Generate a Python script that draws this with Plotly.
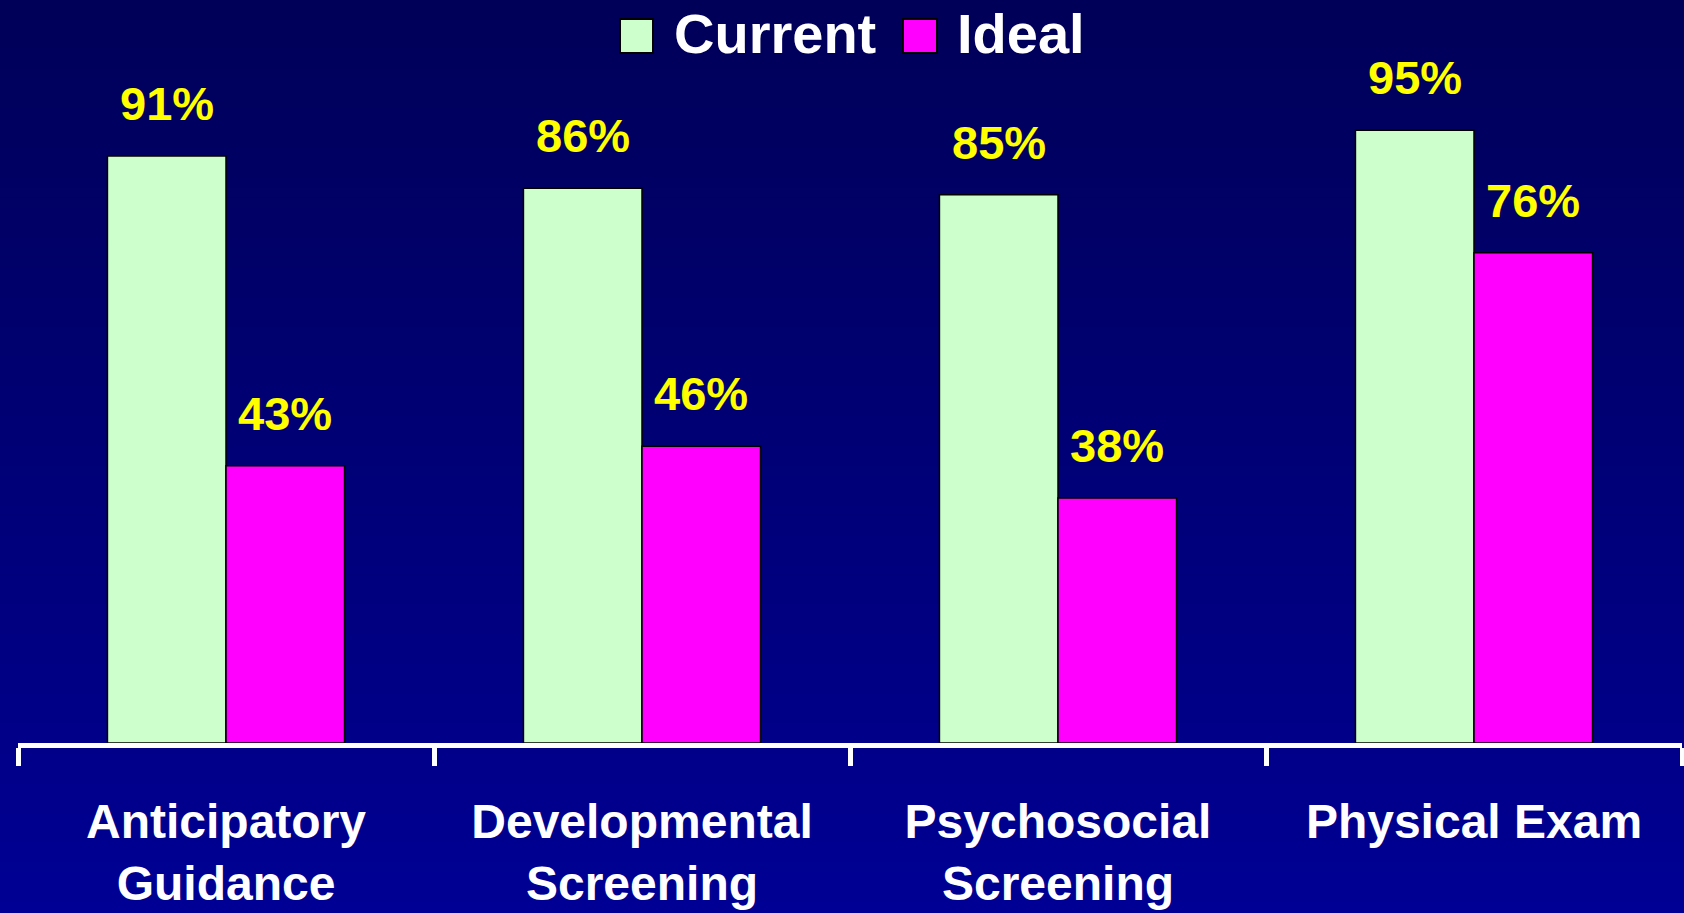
import plotly.graph_objects as go

categories = ["Anticipatory Guidance", "Developmental Screening", "Psychosocial Screening", "Physical Exam"]
tick_labels = ["Anticipatory<br>Guidance", "Developmental<br>Screening", "Psychosocial<br>Screening", "Physical Exam"]
series_names = ["Current", "Ideal"]
current_values = [91, 86, 85, 95]
ideal_values = [43, 46, 38, 76]
series_colors = ["#CCFFCC", "#FF00FF"]

W, H = 1684, 913
ML, MR, MT, MB = 18, 2, 98, 170
PW, PH = W - ML - MR, H - MT - MB
FONT = "Liberation Sans, Arial, sans-serif"
BARGAP = 0.43

def px_to_paper(x, y):
    return (x - ML) / PW, (H - MB - y) / PH

fig = go.Figure()
for name, vals, col in zip(series_names, [current_values, ideal_values], series_colors):
    fig.add_trace(go.Bar(
        x=categories, y=vals, name=name, showlegend=False,
        marker=dict(color=col, line=dict(color="black", width=1.5)),
        hoverinfo="skip",
    ))

# value labels above each bar
half = (1 - BARGAP) / 2
for k, vals in enumerate([current_values, ideal_values]):
    off = (-0.5 + k) * half
    for i, v in enumerate(vals):
        fig.add_annotation(
            x=i + off, y=v, xref="x", yref="y", text=f"<b>{v}%</b>",
            showarrow=False, yanchor="bottom", yshift=24,
            font=dict(family=FONT, size=47, color="#FFFF00"),
        )

shapes = []
# gradient background
N = 92
for j in range(N):
    y0p = j * H / N
    y1p = (j + 1) * H / N
    t = (j + 0.5) / N
    b = int(round(88 + (148 - 88) * t))
    _, y0 = px_to_paper(0, y0p)
    _, y1 = px_to_paper(0, y1p)
    x0, _ = px_to_paper(0, 0)
    x1, _ = px_to_paper(W, 0)
    shapes.append(dict(type="rect", xref="paper", yref="paper", x0=x0, x1=x1,
                       y0=y1, y1=y0 + 0.002, fillcolor=f"rgb(0,0,{b})",
                       line=dict(width=0), layer="below"))

# manual legend
leg_boxes = [(620, 653), (903, 937)]
leg_text_x = [672, 955]
for (bx0, bx1), tx, name, col in zip(leg_boxes, leg_text_x, series_names, series_colors):
    x0, y0 = px_to_paper(bx0, 53)
    x1, y1 = px_to_paper(bx1, 19)
    shapes.append(dict(type="rect", xref="paper", yref="paper", x0=x0, x1=x1, y0=y0, y1=y1,
                       fillcolor=col, line=dict(color="black", width=2), layer="above"))
    ax, ay = px_to_paper(tx, 33)
    fig.add_annotation(x=ax, y=ay, xref="paper", yref="paper", text=f"<b>{name}</b>",
                       showarrow=False, xanchor="left", yanchor="middle",
                       font=dict(family=FONT, size=56, color="white"))

fig.update_layout(
    width=W, height=H,
    margin=dict(l=ML, r=MR, t=MT, b=MB, pad=0),
    paper_bgcolor="rgb(0,0,110)", plot_bgcolor="rgba(0,0,0,0)",
    barmode="group", bargap=BARGAP, bargroupgap=0,
    shapes=shapes, showlegend=False,
)
fig.update_xaxes(
    tickmode="array", tickvals=categories, ticktext=[f"<b>{t}</b>" for t in tick_labels],
    tickson="boundaries", ticks="outside", ticklen=18, tickwidth=5, tickcolor="white",
    showline=True, linecolor="white", linewidth=5, showgrid=False,
    tickfont=dict(family=FONT, size=48, color="white"), ticklabelstandoff=32,
)
fig.update_yaxes(range=[0, 100], visible=False, showgrid=False)

fig.write_html("out.html", config={"displayModeBar": False},
               post_script="document.body.style.margin='0';document.body.style.overflow='hidden';")
